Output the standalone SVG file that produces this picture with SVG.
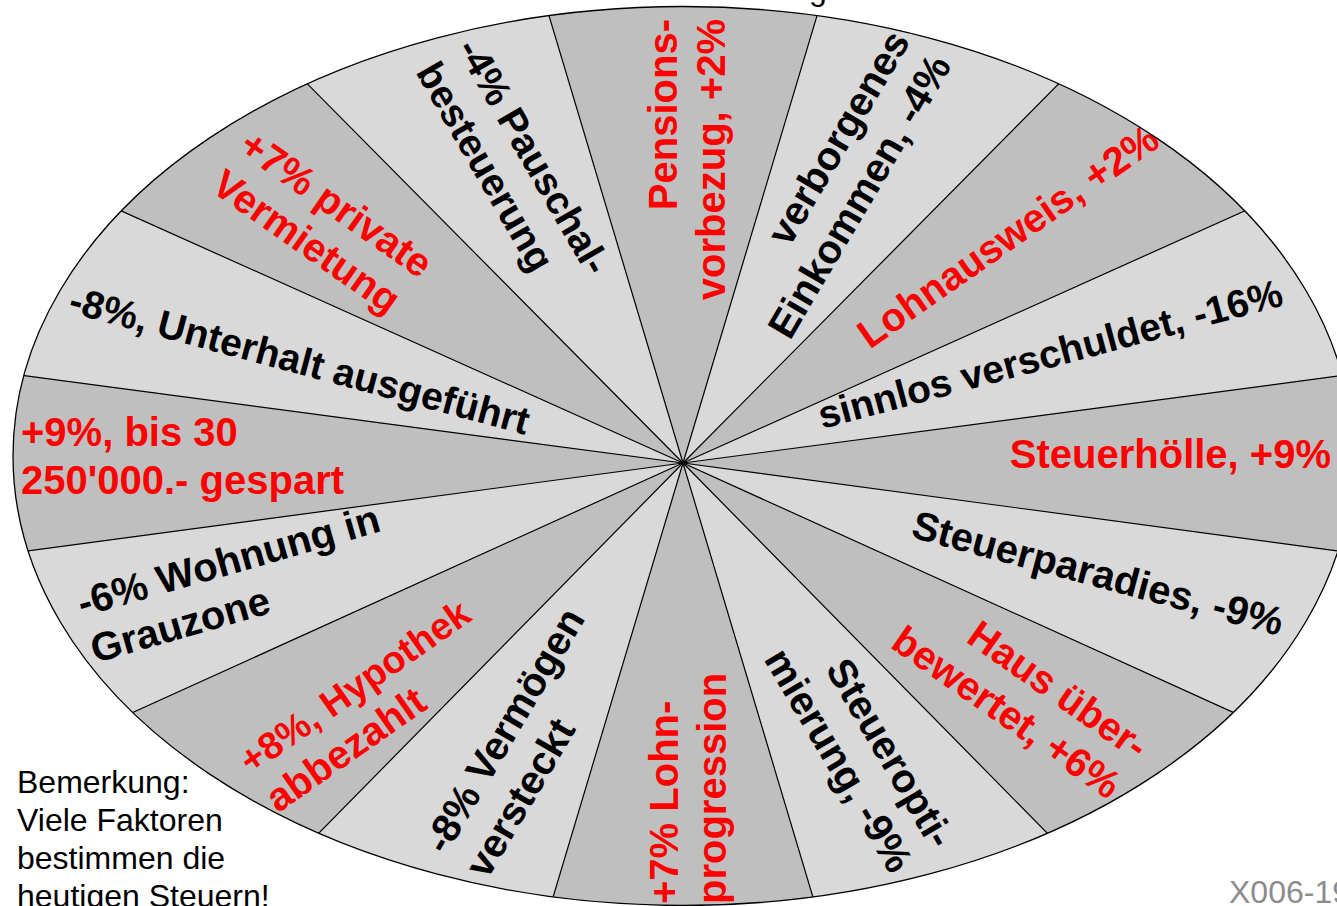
<svg xmlns="http://www.w3.org/2000/svg" width="1337" height="906" viewBox="0 0 1337 906">
<style>
.lt{fill:#d9d9d9}
.dk{fill:#bfbfbf}
.lb{font-family:"Liberation Sans",Arial,sans-serif;font-weight:bold;font-size:40px}
.r{fill:#ff0000}
.k{fill:#000000}
.sp line{stroke:#000;stroke-width:1.2}
.note{font-family:"Liberation Sans",Arial,sans-serif;font-size:32px;fill:#000}
</style>
<defs>
<clipPath id="ell"><ellipse cx="683" cy="456" rx="670" ry="449.5"/></clipPath>
</defs>
<rect width="1337" height="906" fill="#ffffff"/>
<text class="note" x="809" y="0">g</text>
<ellipse cx="683" cy="456" rx="670" ry="449.5" class="lt"/>
<g id="s-pensions"><polygon class="dk" clip-path="url(#ell)" points="683,463 414,-435 952,-435"/>
<text class="lb r" text-anchor="end" transform="translate(677,19) rotate(-90)"><tspan x="0" y="0">Pensions-</tspan><tspan x="0" dy="48">vorbezug, +2%</tspan></text></g>
<g id="s-verborgenes">
<text class="lb k" text-anchor="end" transform="translate(911,41) rotate(-59.5)"><tspan x="0" y="0">verborgenes</tspan><tspan x="0" dy="48">Einkommen, -4%</tspan></text></g>
<g id="s-lohnausweis"><polygon class="dk" clip-path="url(#ell)" points="683,463 1436,-297 1806,-41"/>
<text class="lb r" text-anchor="end" transform="translate(1162,145) rotate(-35)">Lohnausweis, +2%</text></g>
<g id="s-sinnlos">
<text class="lb k" style="font-size:39px" text-anchor="end" transform="translate(1285,305) rotate(-15)">sinnlos verschuldet, -16%</text></g>
<g id="s-steuerhoelle"><polygon class="dk" clip-path="url(#ell)" points="683,463 2002,288 1993,639"/>
<text class="lb r" text-anchor="end" x="1331" y="468">Steuerhölle, +9%</text></g>
<g id="s-steuerparadies">
<text class="lb k" text-anchor="end" transform="translate(1279,636) rotate(15)">Steuerparadies, -9%</text></g>
<g id="s-haus"><polygon class="dk" clip-path="url(#ell)" points="683,463 1786,963 1415,1207"/>
<text class="lb r" text-anchor="end" transform="translate(1136,761) rotate(35)"><tspan x="0" y="0">Haus über-</tspan><tspan x="0" dy="48">bewertet, +6%</tspan></text></g>
<g id="s-steueropti">
<text class="lb k" text-anchor="end" transform="translate(932,851) rotate(59.5)"><tspan x="0" y="0">Steueropti-</tspan><tspan x="0" dy="48">mierung, -9%</tspan></text></g>
<g id="s-lohnprogression"><polygon class="dk" clip-path="url(#ell)" points="683,463 944,1335 422,1335"/>
<text class="lb r" text-anchor="start" transform="translate(678,904) rotate(-90)"><tspan x="0" y="0">+7% Lohn-</tspan><tspan x="0" dy="48">progression</tspan></text></g>
<g id="s-vermoegen">
<text class="lb k" text-anchor="start" transform="translate(446,856) rotate(-59.5)"><tspan x="0" y="0">-8% Vermögen</tspan><tspan x="0" dy="48">versteckt</tspan></text></g>
<g id="s-hypothek"><polygon class="dk" clip-path="url(#ell)" points="683,463 -49,1207 -420,963"/>
<text class="lb r" style="font-size:38px" text-anchor="start" transform="translate(251,775) rotate(-35)"><tspan x="0" y="0">+8%, Hypothek</tspan><tspan x="0" dy="47" style="font-size:40px">abbezahlt</tspan></text></g>
<g id="s-wohnung">
<text class="lb k" text-anchor="start" transform="translate(82,617) rotate(-16)"><tspan x="0" y="0">-6% Wohnung in</tspan><tspan x="0" dy="48">Grauzone</tspan></text></g>
<g id="s-gespart"><polygon class="dk" clip-path="url(#ell)" points="683,463 -627,639 -636,288"/>
<text class="lb r" text-anchor="start"><tspan x="21" y="446">+9%, bis 30</tspan><tspan x="21" y="494">250'000.- gespart</tspan></text></g>
<g id="s-unterhalt">
<text class="lb k" style="font-size:39px" text-anchor="start" transform="translate(67,312) rotate(15)">-8%, Unterhalt ausgeführt</text></g>
<g id="s-vermietung"><polygon class="dk" clip-path="url(#ell)" points="683,463 -440,-41 -70,-297"/>
<text class="lb r" text-anchor="start" transform="translate(237,151) rotate(35)"><tspan x="0" y="0">+7% private</tspan><tspan x="0" dy="48">Vermietung</tspan></text></g>
<g id="s-pauschal">
<text class="lb k" style="font-size:39px" text-anchor="start" transform="translate(456,48.5) rotate(60)"><tspan x="0" y="0">-4% Pauschal-</tspan><tspan x="0" dy="47">besteuerung</tspan></text></g>
<g id="spokes" class="sp" clip-path="url(#ell)">
<line x1="683" y1="463" x2="952" y2="-435"/>
<line x1="683" y1="463" x2="1436" y2="-297"/>
<line x1="683" y1="463" x2="1806" y2="-41"/>
<line x1="683" y1="463" x2="2002" y2="288"/>
<line x1="683" y1="463" x2="1993" y2="639"/>
<line x1="683" y1="463" x2="1786" y2="963"/>
<line x1="683" y1="463" x2="1415" y2="1207"/>
<line x1="683" y1="463" x2="944" y2="1335"/>
<line x1="683" y1="463" x2="422" y2="1335"/>
<line x1="683" y1="463" x2="-49" y2="1207"/>
<line x1="683" y1="463" x2="-420" y2="963"/>
<line x1="683" y1="463" x2="-627" y2="639"/>
<line x1="683" y1="463" x2="-636" y2="288"/>
<line x1="683" y1="463" x2="-440" y2="-41"/>
<line x1="683" y1="463" x2="-70" y2="-297"/>
<line x1="683" y1="463" x2="414" y2="-435"/>
</g>
<ellipse id="rim" cx="683" cy="456" rx="670" ry="449.5" fill="none" stroke="#000" stroke-width="1.3"/>
<g id="note"><text class="note"><tspan x="17" y="793">Bemerkung:</tspan><tspan x="17" y="831">Viele Faktoren</tspan><tspan x="17" y="869">bestimmen die</tspan><tspan x="17" y="907">heutigen Steuern!</tspan></text></g>
<text id="code" x="1229" y="903" style="font-family:'Liberation Sans',Arial,sans-serif;font-size:32px;fill:#8c8c8c">X006-19</text>
</svg>
